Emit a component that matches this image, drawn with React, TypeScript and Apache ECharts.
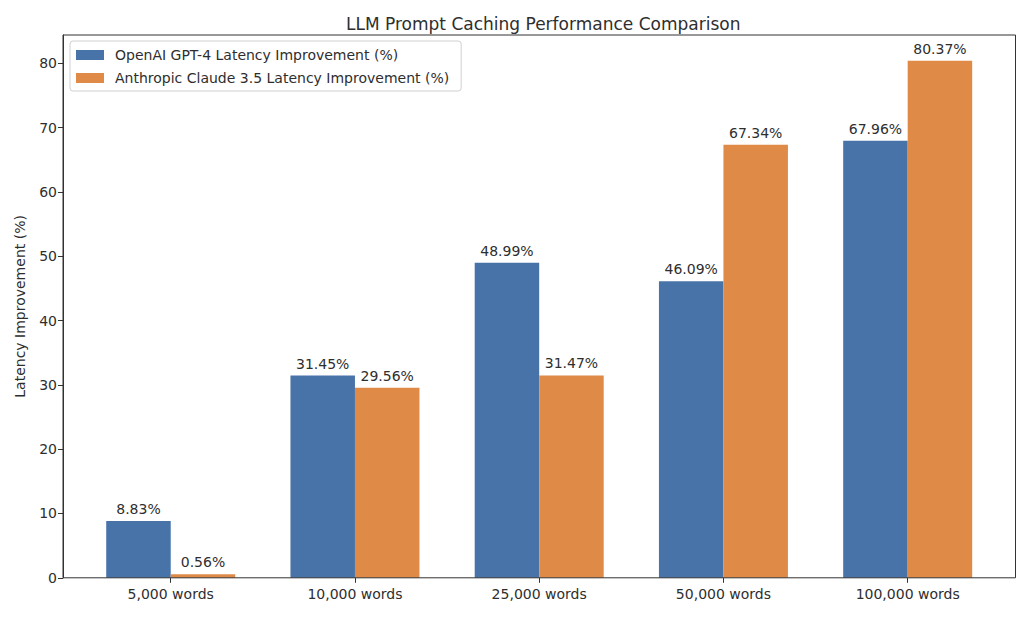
import * as echarts from 'echarts';
import { useEffect, useRef } from 'react';

const categories = ['5,000 words', '10,000 words', '25,000 words', '50,000 words', '100,000 words'];
const openaiValues = [8.83, 31.45, 48.99, 46.09, 67.96];
const claudeValues = [0.56, 29.56, 31.47, 67.34, 80.37];
const seriesNames = [
  'OpenAI GPT-4 Latency Improvement (%)',
  'Anthropic Claude 3.5 Latency Improvement (%)',
];

const FONT = '"DejaVu Sans", sans-serif';
const TEXT = '#2e2e2e';
const AXIS = '#333333';

// plot frame, in px
const FRAME = { left: 63, top: 35, right: 1015.5, bottom: 577.8 };

export default function App() {
  const containerRef = useRef<HTMLDivElement>(null);

  useEffect(() => {
    const chart = echarts.init(containerRef.current!, undefined, { renderer: 'svg' });

    const label = {
      show: true,
      position: 'top',
      distance: 5,
      color: TEXT,
      fontFamily: FONT,
      fontSize: 14,
      formatter: (p: { value: number }) => `${p.value.toFixed(2)}%`,
    };

    chart.setOption({
      animation: false,
      backgroundColor: '#ffffff',
      title: {
        text: 'LLM Prompt Caching Performance Comparison',
        left: 341,
        top: 10,
        textStyle: { color: TEXT, fontFamily: FONT, fontSize: 17, fontWeight: 'normal' },
      },
      legend: {
        orient: 'vertical',
        left: 70,
        top: 41,
        padding: [7, 12, 6, 6],
        itemWidth: 28,
        itemHeight: 10,
        itemGap: 9,
        borderColor: '#d0d0d0',
        borderWidth: 1,
        borderRadius: 3,
        backgroundColor: '#ffffff',
        textStyle: { color: TEXT, fontFamily: FONT, fontSize: 14, padding: [0, 0, 0, 6] },
        data: seriesNames.map((name) => ({ name, icon: 'rect' })),
      },
      grid: {
        left: 78.6,
        right: 24.2,
        top: FRAME.top,
        bottom: 618 - FRAME.bottom,
      },
      xAxis: {
        type: 'category',
        data: categories,
        axisLine: { show: false },
        axisTick: { show: true, alignWithLabel: true, length: 5, lineStyle: { color: AXIS } },
        axisLabel: { color: TEXT, fontFamily: FONT, fontSize: 14, margin: 9 },
        splitLine: { show: false },
      },
      yAxis: {
        type: 'value',
        min: 0,
        max: 84.39,
        interval: 10,
        offset: 15.6,
        name: 'Latency Improvement (%)',
        nameLocation: 'middle',
        nameGap: 36,
        nameTextStyle: { color: TEXT, fontFamily: FONT, fontSize: 14 },
        axisLine: { show: true, lineStyle: { color: AXIS } },
        axisTick: { show: true, length: 5, lineStyle: { color: AXIS } },
        axisLabel: {
          color: TEXT,
          fontFamily: FONT,
          fontSize: 14,
          margin: 6,
          showMaxLabel: false,
        },
        splitLine: { show: false },
      },
      graphic: [
        {
          type: 'rect',
          z: 100,
          silent: true,
          shape: {
            x: FRAME.left,
            y: FRAME.top,
            width: FRAME.right - FRAME.left,
            height: FRAME.bottom - FRAME.top,
          },
          style: { fill: 'none', stroke: AXIS, lineWidth: 1 },
        },
      ],
      series: [
        {
          type: 'bar',
          name: seriesNames[0],
          data: openaiValues,
          barWidth: 64.5,
          barGap: '0%',
          itemStyle: { color: '#4873a9' },
          label,
        },
        {
          type: 'bar',
          name: seriesNames[1],
          data: claudeValues,
          barWidth: 64.5,
          barGap: '0%',
          itemStyle: { color: '#df8a47' },
          label,
        },
      ],
    });

    return () => chart.dispose();
  }, []);

  return (
    <div
      ref={containerRef}
      style={{ position: 'fixed', left: 0, top: 0, width: 1024, height: 618 }}
    />
  );
}
